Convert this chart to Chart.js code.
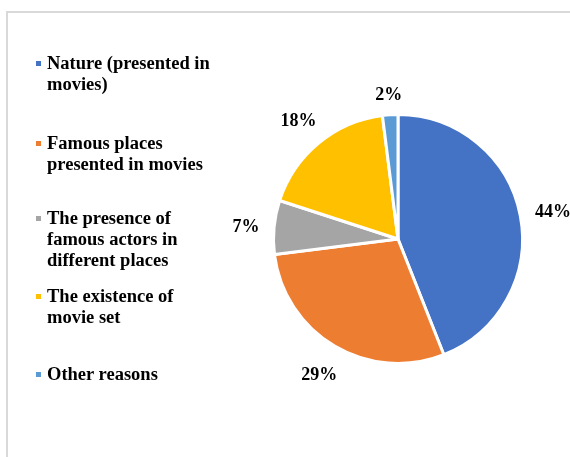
<!DOCTYPE html>
<html lang="en">
<head>
  <meta charset="UTF-8" />
  <title>Reasons pie</title>
  <script src="https://cdn.jsdelivr.net/npm/chart.js"></script>
  <style>
    html, body { margin: 0; padding: 0; background: #fff; }
    #wrap { position: relative; width: 570px; height: 457px; overflow: hidden; }
    #frame {
      position: absolute; left: 6px; top: 11px; width: 600px; height: 500px;
      border-top: 2px solid #d9d9d9; border-left: 2px solid #d9d9d9;
    }
    #pie { position: absolute; left: 0; top: 0; }
    .item {
      position: absolute; left: 47px;
      font: bold 18.5px "Liberation Serif", "Times New Roman", serif;
      line-height: 21px; color: #000; white-space: nowrap;
    }
    .item i {
      position: absolute; left: -11px; top: 8px; width: 5px; height: 5px;
    }
  </style>
</head>
<body>
  <div id="wrap">
    <div id="frame"></div>
    <canvas id="pie" width="570" height="457"></canvas>
    <div id="legend"></div>
  </div>

  <script>
    // kategori & nilai (persen)
    const categories = [
      ['Nature (presented in', 'movies)'],
      ['Famous places', 'presented in movies'],
      ['The presence of', 'famous actors in', 'different places'],
      ['The existence of', 'movie set'],
      ['Other reasons']
    ];
    const values = [44, 29, 7, 18, 2];
    const colors = ['#4472C4', '#ED7D31', '#A5A5A5', '#FFC000', '#5B9BD5'];

    // legenda manual di kiri
    const legendTops = [53, 133, 208, 286, 364];
    const legend = document.getElementById('legend');
    categories.forEach((lines, i) => {
      const div = document.createElement('div');
      div.className = 'item';
      div.style.top = legendTops[i] + 'px';
      div.innerHTML = '<i style="background:' + colors[i] + '"></i>' + lines.join('<br>');
      legend.appendChild(div);
    });

    // label persen di luar irisan
    const outsideLabels = {
      id: 'outsideLabels',
      afterDatasetsDraw(chart) {
        const ctx = chart.ctx;
        const meta = chart.getDatasetMeta(0);
        ctx.save();
        ctx.font = 'bold 18px "Liberation Serif", "Times New Roman", serif';
        ctx.fillStyle = '#000';
        ctx.textAlign = 'center';
        ctx.textBaseline = 'middle';
        meta.data.forEach((arc, i) => {
          const p = arc.getProps(['x', 'y', 'startAngle', 'endAngle', 'outerRadius'], true);
          const mid = (p.startAngle + p.endAngle) / 2;
          const txt = values[i] + '%';
          const hw = ctx.measureText(txt).width / 2;
          const ext = Math.abs(Math.cos(mid)) * hw + Math.abs(Math.sin(mid)) * 8;
          const d = p.outerRadius + 14 + ext;
          ctx.fillText(txt, p.x + Math.cos(mid) * d, p.y + Math.sin(mid) * d + 3);
        });
        ctx.restore();
      }
    };

    new Chart(document.getElementById('pie').getContext('2d'), {
      type: 'pie',
      data: {
        labels: categories.map(c => c.join(' ')),
        datasets: [{
          data: values,
          backgroundColor: colors,
          borderColor: '#fff',
          borderWidth: 3
        }]
      },
      options: {
        responsive: false,
        animation: false,
        layout: { padding: { left: 272, right: 46, top: 113, bottom: 92 } },
        plugins: {
          legend: { display: false },
          tooltip: { enabled: false }
        }
      },
      plugins: [outsideLabels]
    });
  </script>
</body>
</html>
